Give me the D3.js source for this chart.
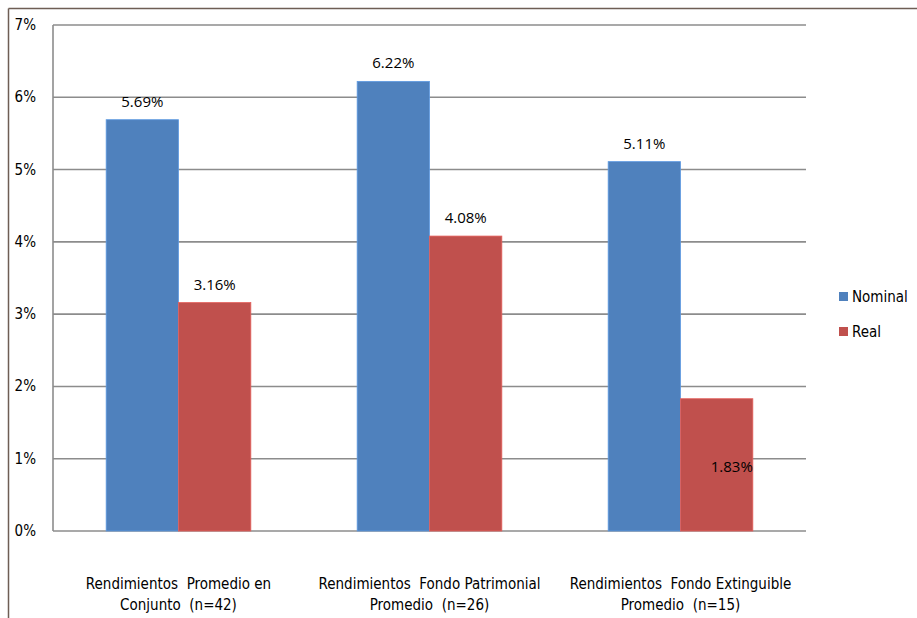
<!DOCTYPE html>
<html><head><meta charset="utf-8">
<script src="https://cdn.jsdelivr.net/npm/d3@7"></script>
<style>
body{margin:0;background:#fff;}
text{font-family:"DejaVu Sans Condensed","Liberation Sans Narrow",Arial,sans-serif;fill:#000;white-space:pre;}
text.dl{font-family:"Open Sans","Noto Sans",sans-serif;}
</style></head>
<body><svg id="c" width="917" height="618"></svg>
<script>
const categories = [
  ["Rendimientos  Promedio en", "Conjunto  (n=42)"],
  ["Rendimientos  Fondo Patrimonial", "Promedio  (n=26)"],
  ["Rendimientos  Fondo Extinguible", "Promedio  (n=15)"]
];
const seriesNames = ["Nominal", "Real"];
const nominal = [5.69, 6.22, 5.11];
const real = [3.16, 4.08, 1.83];
const yTicks = [0, 1, 2, 3, 4, 5, 6, 7];
const colors = ["#4F81BD", "#C0504D"];

const svg = d3.select("#c");
// outer frame
svg.append("line").attr("x1",8.5).attr("x2",917).attr("y1",8.5).attr("y2",8.5).attr("stroke","#6e5e55").attr("stroke-width",1.5);
svg.append("line").attr("x1",8.5).attr("x2",8.5).attr("y1",8.5).attr("y2",618).attr("stroke","#6e5e55").attr("stroke-width",1.5);

const L=53, R=806, T=25, B=531;
const x0 = d3.scaleBand().domain(d3.range(categories.length)).range([L,R]);
const x1 = d3.scaleBand().domain([0,1]).range([0,x0.bandwidth()]).paddingOuter(0.735).paddingInner(0);
const y = d3.scaleLinear().domain([0,7]).range([B,T]);

// gridlines
svg.append("g").selectAll("line").data(yTicks).join("line")
  .attr("x1",L).attr("x2",R).attr("y1",d=>y(d)).attr("y2",d=>y(d))
  .attr("stroke","#8c8c8c").attr("stroke-width",1.6);
svg.append("line").attr("x1",L).attr("x2",L).attr("y1",T).attr("y2",B).attr("stroke","#8c8c8c").attr("stroke-width",1.6);

// y tick labels
svg.append("g").selectAll("text").data(yTicks).join("text")
  .attr("x",36).attr("y",d=>y(d)+5).attr("text-anchor","end")
  .style("font-size","15px").text(d=>d+"%");

const data = categories.map((c,i)=>[nominal[i], real[i]]);
const g = svg.append("g");
data.forEach((vals,i)=>{
  vals.forEach((v,s)=>{
    const bx = x0(i)+x1(s), bw = x1.bandwidth();
    g.append("rect").attr("x",bx).attr("y",y(v)).attr("width",bw).attr("height",y(0)-y(v))
      .attr("fill",colors[s]).attr("stroke",d3.color(colors[s]).brighter(0.5)).attr("stroke-width",0.8);
    const inside = (i===2 && s===1);
    g.append("text").attr("class","dl")
      .attr("x", inside ? bx+bw : bx+bw/2)
      .attr("y", inside ? y(v)+73 : y(v)-13)
      .attr("text-anchor", inside ? "end" : "middle")
      .style("font-size","15px").text(v.toFixed(2)+"%");
  });
  categories[i].forEach((line,k)=>{
    svg.append("text").attr("x",x0(i)+x0.bandwidth()/2).attr("y",589+k*21)
      .attr("text-anchor","middle").style("font-size","15px").text(line);
  });
});

// legend
const lg = svg.append("g");
seriesNames.forEach((n,s)=>{
  lg.append("rect").attr("x",839).attr("y",292+s*35).attr("width",9).attr("height",9).attr("fill",colors[s]);
  lg.append("text").attr("x",852).attr("y",302+s*35).style("font-size","15px").text(n);
});
</script></body></html>
